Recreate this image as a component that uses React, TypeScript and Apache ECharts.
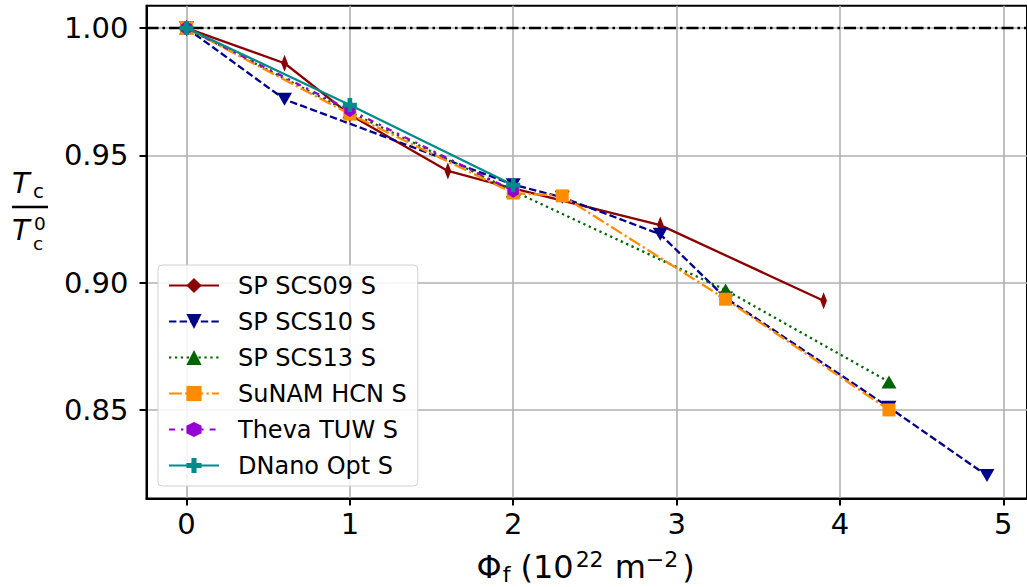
import React, { useEffect, useRef } from "react";
import * as echarts from "echarts";

const xTicks = [0, 1, 2, 3, 4, 5];
const yTicks = [0.85, 0.9, 0.95, 1.0];

const seriesNames = ["SP SCS09 S", "SP SCS10 S", "SP SCS13 S", "SuNAM HCN S", "Theva TUW S", "DNano Opt S"];

const scs09X = [0, 0.6, 1, 1.6, 2, 2.9, 3.9];
const scs09Y = [1, 0.9862, 0.966, 0.9439, 0.937, 0.9226, 0.8929];
const scs10X = [0, 0.6, 2, 2.3, 2.9, 3.3, 4.3, 4.9];
const scs10Y = [1, 0.972, 0.9385, 0.9335, 0.919, 0.894, 0.851, 0.8242];
const scs13X = [0, 1, 2, 3.3, 4.3];
const scs13Y = [1, 0.967, 0.936, 0.8971, 0.861];
const sunamX = [0, 1, 2, 2.3, 3.3, 4.3];
const sunamY = [1, 0.9662, 0.9352, 0.9341, 0.8935, 0.85];
const thevaX = [0, 1, 2];
const thevaY = [1, 0.9678, 0.9361];
const dnanoX = [0, 1, 2];
const dnanoY = [1, 0.9698, 0.9383];

const refLineValue = 1.0;

const FONT = "DejaVu Sans";

const DIAMOND = "path://M0,-1L0.6,0L0,1L-0.6,0Z";
const HEX = "path://M0,-1L0.866,-0.5L0.866,0.5L0,1L-0.866,0.5L-0.866,-0.5Z";
const PLUS = "path://M2,0H4V2H6V4H4V6H2V4H0V2H2Z";

function pts(xs: number[], ys: number[]) {
  return xs.map((x, i) => [x, ys[i]]);
}

export default function App() {
  const ref = useRef<HTMLDivElement>(null);
  useEffect(() => {
    if (!ref.current) return;
    const chart = echarts.init(ref.current, undefined, { renderer: "svg" });

    const mk = (
      name: string,
      xs: number[],
      ys: number[],
      color: string,
      dash: any,
      symbol: string,
      size: any,
      rotate = 0,
      z = 2
    ) => ({
      type: "line",
      name,
      data: pts(xs, ys),
      symbol,
      symbolSize: size,
      symbolRotate: rotate,
      symbolKeepAspect: true,
      showAllSymbol: true,
      lineStyle: { color, width: 2.3, type: dash },
      itemStyle: { color, borderWidth: 0 },
      z,
      emphasis: { disabled: true },
    });

    const s0: any = mk(seriesNames[0], scs09X, scs09Y, "#8B0000", "solid", DIAMOND, [11, 17], 0, 3);
    s0.markLine = {
      silent: true,
      symbol: ["none", "none"],
      label: { show: false },
      lineStyle: { color: "#000", width: 2.3, type: [12, 4, 2.5, 4] },
      data: [{ yAxis: refLineValue }],
      z: 2,
    };

    const option: any = {
      animation: false,
      grid: {
        left: 146.5,
        right: -6,
        top: 5.7,
        bottom: 88.5,
        show: true,
        borderColor: "#000",
        borderWidth: 2,
        backgroundColor: "transparent",
      },
      xAxis: {
        type: "value",
        min: -0.245,
        max: 5.145,
        axisLine: { show: true, onZero: false, lineStyle: { color: "#000", width: 2 } },
        axisTick: { show: true, length: 7, customValues: xTicks, lineStyle: { color: "#000", width: 2 } },
        axisLabel: {
          customValues: xTicks,
          fontSize: 29,
          fontFamily: FONT,
          color: "#000",
          margin: 11,
          formatter: (v: number) => String(v),
        },
        splitLine: { show: true, lineStyle: { color: "#b0b0b0", width: 1.6 } },
      },
      yAxis: {
        type: "value",
        min: 0.8152,
        max: 1.0088,
        axisLine: { show: true, onZero: false, lineStyle: { color: "#000", width: 2 } },
        axisTick: { show: true, length: 7, customValues: yTicks, lineStyle: { color: "#000", width: 2 } },
        axisLabel: {
          customValues: yTicks,
          fontSize: 29,
          fontFamily: FONT,
          color: "#000",
          margin: 18,
          formatter: (v: number) => v.toFixed(2),
        },
        splitLine: { show: true, lineStyle: { color: "#b0b0b0", width: 1.6 } },
      },
      legend: {
        orient: "vertical",
        left: 158,
        top: 265,
        itemWidth: 50,
        itemHeight: 19,
        itemGap: 11,
        padding: [8, 11, 8, 10],
        backgroundColor: "rgba(255,255,255,0.85)",
        borderColor: "#d0d0d0",
        borderWidth: 1,
        borderRadius: 4,
        textStyle: { fontSize: 24, fontFamily: FONT, color: "#000", lineHeight: 25, padding: [0, 0, 0, 14] },
        data: seriesNames,
      },
      series: [
        s0,
        mk(seriesNames[1], scs10X, scs10Y, "#00008B", [7.4, 3.2], "triangle", [15, 13], 180, 3),
        mk(seriesNames[2], scs13X, scs13Y, "#006400", [2.3, 3.6], "triangle", [15, 13], 0, 4),
        mk(seriesNames[3], sunamX, sunamY, "#FF8C00", [12.8, 3.2, 2.3, 3.2], "rect", [13, 13], 0, 5),
        mk(seriesNames[4], thevaX, thevaY, "#9400D3", [6, 6, 2.3, 6], HEX, [13, 14], 0, 6),
        mk(seriesNames[5], dnanoX, dnanoY, "#008B8B", "solid", PLUS, [14, 14], 0, 7),
      ],
      graphic: [
        { type: "text", x: 12, y: 183, style: { text: "T", fontSize: 29, fontFamily: FONT, fontStyle: "italic", fill: "#000", align: "left", verticalAlign: "middle" } },
        { type: "text", x: 33, y: 190.6, style: { text: "c", fontSize: 20, fontFamily: FONT, fill: "#000", align: "left", verticalAlign: "middle" } },
        { type: "line", shape: { x1: 12, y1: 207, x2: 48, y2: 207 }, style: { stroke: "#000", lineWidth: 2.4 } },
        { type: "text", x: 12, y: 229.5, style: { text: "T", fontSize: 29, fontFamily: FONT, fontStyle: "italic", fill: "#000", align: "left", verticalAlign: "middle" } },
        { type: "text", x: 34, y: 223.5, style: { text: "0", fontSize: 18.5, fontFamily: FONT, fill: "#000", align: "left", verticalAlign: "middle" } },
        { type: "text", x: 33, y: 243, style: { text: "c", fontSize: 18.5, fontFamily: FONT, fill: "#000", align: "left", verticalAlign: "middle" } },
        {
          type: "text",
          x: 476.5,
          y: 566.5,
          style: {
            text: "{a|Φ}{b|f}{p|(10}{c|22}{m|m}{d|−2}{q|)}",
            fill: "#000",
            align: "left",
            verticalAlign: "middle",
            rich: {
              a: { fontSize: 32, fontFamily: FONT, lineHeight: 50, verticalAlign: "middle" },
              b: { fontSize: 22, fontFamily: FONT, padding: [15, 0, 0, 1], verticalAlign: "middle" },
              p: { fontSize: 32, fontFamily: FONT, padding: [0, 0, 0, 10], verticalAlign: "middle" },
              c: { fontSize: 22, fontFamily: FONT, padding: [0, 0, 15, 2], verticalAlign: "middle" },
              m: { fontSize: 32, fontFamily: FONT, padding: [0, 0, 0, 11], verticalAlign: "middle" },
              d: { fontSize: 22, fontFamily: FONT, padding: [0, 0, 15, 0], verticalAlign: "middle" },
              q: { fontSize: 32, fontFamily: FONT, padding: [0, 0, 0, 4], verticalAlign: "middle" },
            },
          },
        },
      ],
    };

    chart.setOption(option);
    return () => chart.dispose();
  }, []);

  return <div ref={ref} style={{ width: 1027, height: 587, position: "absolute", left: 0, top: 0 }} />;
}
